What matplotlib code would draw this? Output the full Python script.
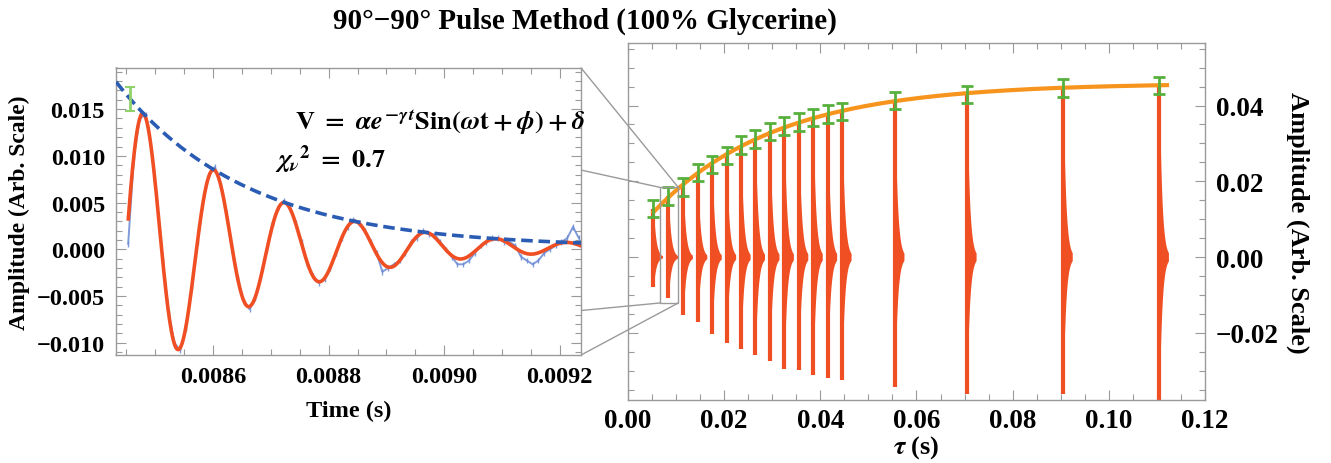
import matplotlib

matplotlib.use("Agg")
import matplotlib.pyplot as plt
import numpy as np
from matplotlib.patches import ConnectionPatch, Rectangle
from matplotlib.ticker import FuncFormatter, MultipleLocator

plt.rcParams["font.family"] = ["Liberation Serif", "DejaVu Serif"]
plt.rcParams["font.weight"] = "bold"
plt.rcParams["mathtext.fontset"] = "stix"

# ---- left panel: one echo, zoomed (digitised samples, 10 us apart) ----
blue_t0 = 0.008453
blue_dt = 1e-5
blue_v = [6, 100, 140, 144, 108, 52, -12, -68, -100, -108,
          -84, -40, 8, 52, 80, 88, 68, 40, 0, -32,
          -56, -64, -52, -28, 0, 28, 44, 52, 44, 28,
          8, -16, -28, -36, -32, -20, -4, 12, 24, 32,
          28, 20, 8, -4, -24, -20, -16, -12, -4, 8,
          12, 20, 16, 16, 8, 0, -8, -16, -16, -12,
          -4, 4, 8, 12, 12, 8, 8, 4, -8, -12,
          -16, -12, -4, 0, 4, 8, 12, 24, 12]  # units of 1e-4
blue_err = 0.0003

# fitted model V = a e^{-g (t-t0)} cos(w (t-t0)) + d
fit_a = 0.0143
fit_g = 4466.0
fit_w = 51417.0
fit_t0 = 0.00848
fit_d = 0.0002
fit_start = 0.008453

peak_t = 0.008456
peak_v = 0.0161
peak_err = 0.0013

# ---- right panel: echo train ----
echo_tau = [0.0053, 0.0084, 0.0115, 0.0145, 0.0175, 0.0205, 0.0235, 0.0265, 0.0295,
            0.0325, 0.0355, 0.0385, 0.0415, 0.0445, 0.0555, 0.0705, 0.0905, 0.1105]
echo_max = [0.0128, 0.0161, 0.0185, 0.0224, 0.0244, 0.0268, 0.0296, 0.0312, 0.0332,
            0.0346, 0.0356, 0.0369, 0.0378, 0.0384, 0.0413, 0.0429, 0.0446, 0.0453]
echo_min = [-0.0079, -0.0108, -0.0152, -0.0172, -0.0202, -0.0226, -0.0242, -0.0257, -0.0275,
            -0.0295, -0.0299, -0.0312, -0.0319, -0.0325, -0.0343, -0.0361, -0.0361, -0.0390]
echo_err = 0.0023
ring_time = 0.00052

# recovery fit M(tau) = m0 - b e^{-tau/T1}
rec_m0 = 0.0459
rec_b = 0.0419
rec_t1 = 0.0255
rec_range = (0.0053, 0.1121)

box_x = (0.00666, 0.01046)
box_y = (-0.0121, 0.0184)

title = "90°\u221290° Pulse Method (100% Glycerine)"

red = "#f04e23"
gray = "#9a9a9a"


def fmt(decimals):
    return FuncFormatter(lambda v, _: f"{v:.{decimals}f}".replace("-", "\u2212"))


fig = plt.figure(figsize=(13.31, 4.64), dpi=100)
axL = fig.add_axes([0.0872, 0.2328, 0.3494, 0.6185], zorder=3)
axR = fig.add_axes([0.4718, 0.1358, 0.4335, 0.7694], zorder=1)

# left panel
bt = blue_t0 + blue_dt * np.arange(len(blue_v))
bv = np.array(blue_v) * 1e-4
axL.errorbar(bt, bv, yerr=blue_err, color="#6a8ad4", lw=1.4, elinewidth=1.0,
             capsize=0, alpha=0.85, zorder=2)
t = np.linspace(0.008432, 0.009237, 800)
env = fit_a * np.exp(-fit_g * (t - fit_t0)) + fit_d
axL.plot(t, env, color="#2b5cb3", lw=2.6, ls=(0, (3.2, 1.6)), zorder=4)
tf = t[t >= fit_start]
vf = fit_a * np.exp(-fit_g * (tf - fit_t0)) * np.cos(fit_w * (tf - fit_t0)) + fit_d
axL.plot(tf, vf, color=red, lw=2.6, zorder=3)
axL.errorbar([peak_t], [peak_v], yerr=peak_err, fmt="none", ecolor="#8fd16a",
             elinewidth=2, capsize=3.5, capthick=1.5, zorder=5)

axL.set_xlim(0.008432, 0.009237)
axL.set_ylim(-0.0113, 0.0194)
axL.xaxis.set_major_locator(MultipleLocator(0.0002))
axL.xaxis.set_minor_locator(MultipleLocator(0.00005))
axL.yaxis.set_major_locator(MultipleLocator(0.005))
axL.yaxis.set_minor_locator(MultipleLocator(0.001))
axL.xaxis.set_major_formatter(fmt(4))
axL.yaxis.set_major_formatter(fmt(3))
axL.set_xlabel("Time (s)", fontsize=17.5, fontweight="bold", labelpad=9)
axL.set_ylabel("Amplitude (Arb. Scale)", fontsize=17, fontweight="bold", labelpad=5)
axL.text(0.385, 0.815, r"$\mathbf{V\ =\ }\alpha e^{-\gamma\,t}\mathbf{Sin(}\omega\mathbf{t+}\phi\mathbf{)+}\delta$",
         transform=axL.transAxes, fontsize=19, va="center", ha="left")
axL.text(0.342, 0.683, r"$\chi_{\nu}{}^{\mathbf{2}}\mathbf{\ =\ 0.7}$",
         transform=axL.transAxes, fontsize=19, va="center", ha="left")

# right panel
for tau, vmax, vmin in zip(echo_tau, echo_max, echo_min):
    s = np.linspace(0, 0.0019, 300)
    decay = np.exp(-s / ring_time)
    axR.fill_between(tau + s, vmin * decay, vmax * decay, color=red, lw=0, zorder=2)
    axR.vlines(tau, vmin, vmax, color=red, lw=3, zorder=2)
tr = np.linspace(rec_range[0], rec_range[1], 400)
axR.plot(tr, rec_m0 - rec_b * np.exp(-tr / rec_t1), color="#f7941d", lw=3, zorder=3)
axR.errorbar(echo_tau, echo_max, yerr=echo_err, fmt="none", ecolor="#58b03c",
             elinewidth=2, capsize=4, capthick=2, zorder=4)
axR.add_patch(Rectangle((box_x[0], box_y[0]), box_x[1] - box_x[0], box_y[1] - box_y[0],
                        fill=False, ec=gray, lw=1, zorder=5))

axR.set_xlim(0, 0.12)
axR.set_ylim(-0.0377, 0.0565)
axR.xaxis.set_major_locator(MultipleLocator(0.02))
axR.xaxis.set_minor_locator(MultipleLocator(0.005))
axR.yaxis.set_major_locator(MultipleLocator(0.02))
axR.yaxis.set_minor_locator(MultipleLocator(0.005))
axR.xaxis.set_major_formatter(fmt(2))
axR.yaxis.set_major_formatter(fmt(2))
axR.yaxis.tick_right()
axR.yaxis.set_label_position("right")
axR.set_xlabel(r"$\tau$ (s)", fontsize=19, fontweight="bold", labelpad=0)
axR.set_ylabel("Amplitude (Arb. Scale)", fontsize=19, fontweight="bold",
               rotation=270, labelpad=22)

for ax, size in ((axL, 17.5), (axR, 19.5)):
    for sp in ax.spines.values():
        sp.set_color(gray)
        sp.set_linewidth(1)
    ax.tick_params(which="both", direction="in", top=True, bottom=True, left=True,
                   right=True, color=gray, width=0.8, labelsize=size)
    ax.tick_params(which="major", length=7, pad=8)
    ax.tick_params(which="minor", length=4)
axR.tick_params(labelleft=False, labelright=True)
axR.tick_params(axis="x", pad=6)

# lines from the zoom panel corners to the marked box
corners = [((0, 1), (box_x[0], box_y[1])), ((1, 1), (box_x[1], box_y[1])),
           ((0, 0), (box_x[0], box_y[0])), ((1, 0), (box_x[1], box_y[0]))]
for a, b in corners:
    con = ConnectionPatch(xyA=a, coordsA=axL.transAxes, xyB=b, coordsB=axR.transData,
                          color=gray, lw=1)
    con.set_zorder(2)
    fig.add_artist(con)

fig.text(0.4395, 0.953, title, ha="center", va="center", fontsize=21, fontweight="bold")

fig.savefig("out.png", dpi=100)
